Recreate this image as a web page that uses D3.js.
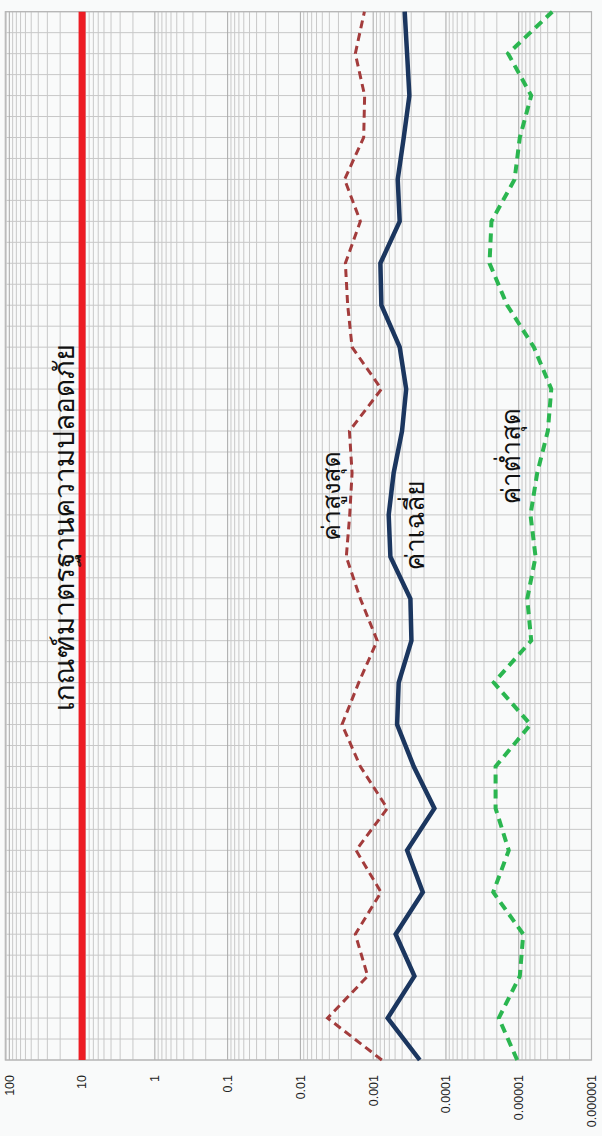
<!DOCTYPE html>
<meta charset="utf-8">
<style>
  body {
    margin: 0;
    background: #f9fafa;
  }
  text {
    font-family: "Loma", "Garuda", "Tahoma", "Noto Sans Thai Looped", "Noto Sans Thai", "Noto Sans", "DejaVu Sans", sans-serif;
  }
</style>
<body>
  <script src="https://d3js.org/d3.v7.min.js"></script>
  <div id="chart"></div>
  <script>
    const width = 602;
    const height = 1136;

    // categories run bottom -> top
    const categories = ["1", "2", "3", "4", "5", "6", "7", "8", "9", "10", "11", "12", "13",
                        "14", "15", "16", "17", "18", "19", "20", "21", "22", "23", "24", "25", "26"];

    const maxValues = [0.00076, 0.00423, 0.00119, 0.00176, 0.00078, 0.00172, 0.00064, 0.00150, 0.00268,
                       0.00158, 0.00088, 0.00150, 0.00234, 0.00210, 0.00195, 0.00212, 0.00077, 0.00195,
                       0.00224, 0.00241, 0.00150, 0.00247, 0.00135, 0.00131, 0.00176, 0.00132];

    const meanValues = [0.000229, 0.000632, 0.000271, 0.000491, 0.000208, 0.000342, 0.000144, 0.000277, 0.000469,
                        0.000446, 0.000298, 0.000308, 0.000580, 0.000612, 0.000523, 0.000401, 0.000352, 0.000432,
                        0.000771, 0.000796, 0.000432, 0.000460, 0.000380, 0.000318, 0.000342, 0.000369];

    const minValues = [0.0000105, 0.0000188, 0.00000966, 0.00000867, 0.0000224, 0.0000137, 0.0000208, 0.0000208, 0.00000689,
                       0.0000220, 0.00000673, 0.00000764, 0.00000587, 0.00000689, 0.00000557, 0.00000398, 0.00000357, 0.00000619,
                       0.0000144, 0.0000252, 0.0000237, 0.0000114, 0.00000966, 0.00000673, 0.0000140, 0.00000346];

    const standardValues = [10, 10, 10, 10, 10, 10, 10, 10, 10, 10, 10, 10, 10,
                            10, 10, 10, 10, 10, 10, 10, 10, 10, 10, 10, 10, 10];

    const tickValues = [100, 10, 1, 0.1, 0.01, 0.001, 0.0001, 0.00001, 0.000001];
    const tickLabels = ["100", "10", "1", "0.1", "0.01", "0.001", "0.0001", "0.00001", "0.000001"];

    const labelStandard = "เกณฑ์มาตรฐานความปลอดภัย";
    const labelMax = "ค่าสูงสุด";
    const labelMean = "ค่าเฉลี่ย";
    const labelMin = "ค่าต่ำสุด";

    const plot = {left: 5.3, right: 591.5, top: 11.7, bottom: 1060};

    const svg = d3.select("#chart")
      .append("svg")
      .attr("width", width)
      .attr("height", height);

    const x = d3.scaleLog()
      .domain([100, 0.000001])
      .range([9.3, 591.5]);

    const y = d3.scalePoint()
      .domain(categories)
      .range([plot.bottom, plot.top]);

    const yHalf = d3.scaleLinear()
      .domain([0, categories.length - 1])
      .range([plot.bottom, plot.top]);

    // grid
    const grid = svg.append("g");

    grid.selectAll("line.h")
      .data(d3.range(0, categories.length - 0.75, 0.5))
      .join("line")
      .attr("class", "h")
      .attr("x1", plot.left).attr("x2", plot.right)
      .attr("y1", d => yHalf(d)).attr("y2", d => yHalf(d))
      .attr("stroke", "#c8c8c8")
      .attr("stroke-width", 1);

    const minor = [];
    for (let e = -6; e <= 2; e++) {
      for (let m = 1; m <= 9; m++) {
        const v = m * Math.pow(10, e);
        if (x(v) >= plot.left - 0.5) minor.push(v);
      }
    }
    minor.push(110);

    grid.selectAll("line.v")
      .data(minor)
      .join("line")
      .attr("class", "v")
      .attr("x1", d => x(d)).attr("x2", d => x(d))
      .attr("y1", plot.top).attr("y2", plot.bottom)
      .attr("stroke", d => tickValues.includes(d) ? "#a8a8a8" : "#c8c8c8")
      .attr("stroke-width", 1);

    svg.append("rect")
      .attr("x", plot.left).attr("y", plot.top)
      .attr("width", plot.right - plot.left)
      .attr("height", plot.bottom - plot.top)
      .attr("fill", "none")
      .attr("stroke", "#b4b4b4")
      .attr("stroke-width", 1.2);

    // tick labels, rotated
    svg.append("g")
      .selectAll("text")
      .data(tickValues)
      .join("text")
      .attr("transform", d => `translate(${x(d)},${plot.bottom + 15}) rotate(-90)`)
      .attr("text-anchor", "end")
      .attr("dy", "0.35em")
      .attr("fill", "#222")
      .style("font-family", "'Liberation Sans', Arial, sans-serif")
      .style("font-size", "12.5px")
      .text((d, i) => tickLabels[i]);

    const line = d3.line()
      .x(d => x(d.v))
      .y(d => y(d.c));

    const series = [
      {values: standardValues, color: "#ed1c24", width: 7, dash: null},
      {values: maxValues, color: "#a33c3c", width: 3, dash: "8,5"},
      {values: meanValues, color: "#1b365f", width: 4.5, dash: null},
      {values: minValues, color: "#2bb650", width: 4, dash: "9,6"}
    ];

    svg.append("g")
      .selectAll("path")
      .data(series)
      .join("path")
      .attr("d", s => line(s.values.map((v, i) => ({c: categories[i], v}))))
      .attr("fill", "none")
      .attr("stroke", s => s.color)
      .attr("stroke-width", s => s.width)
      .attr("stroke-dasharray", s => s.dash)
      .attr("stroke-linejoin", "miter");

    // series labels
    const labels = [
      {text: labelStandard, x: x(10) - 18, y: yHalf(12.7), size: 28},
      {text: labelMax, x: x(0.001) - 42, y: yHalf(13.45), size: 25},
      {text: labelMean, x: x(0.0001) - 31, y: yHalf(12.75), size: 26},
      {text: labelMin, x: x(0.00001) - 8, y: yHalf(14.4), size: 26}
    ];

    svg.append("g")
      .selectAll("text")
      .data(labels)
      .join("text")
      .attr("transform", d => `translate(${d.x},${d.y}) rotate(-90)`)
      .attr("text-anchor", "middle")
      .attr("dy", "0.35em")
      .attr("fill", "#111")
      .style("font-size", d => d.size + "px")
      .text(d => d.text);
  </script>
</body>
